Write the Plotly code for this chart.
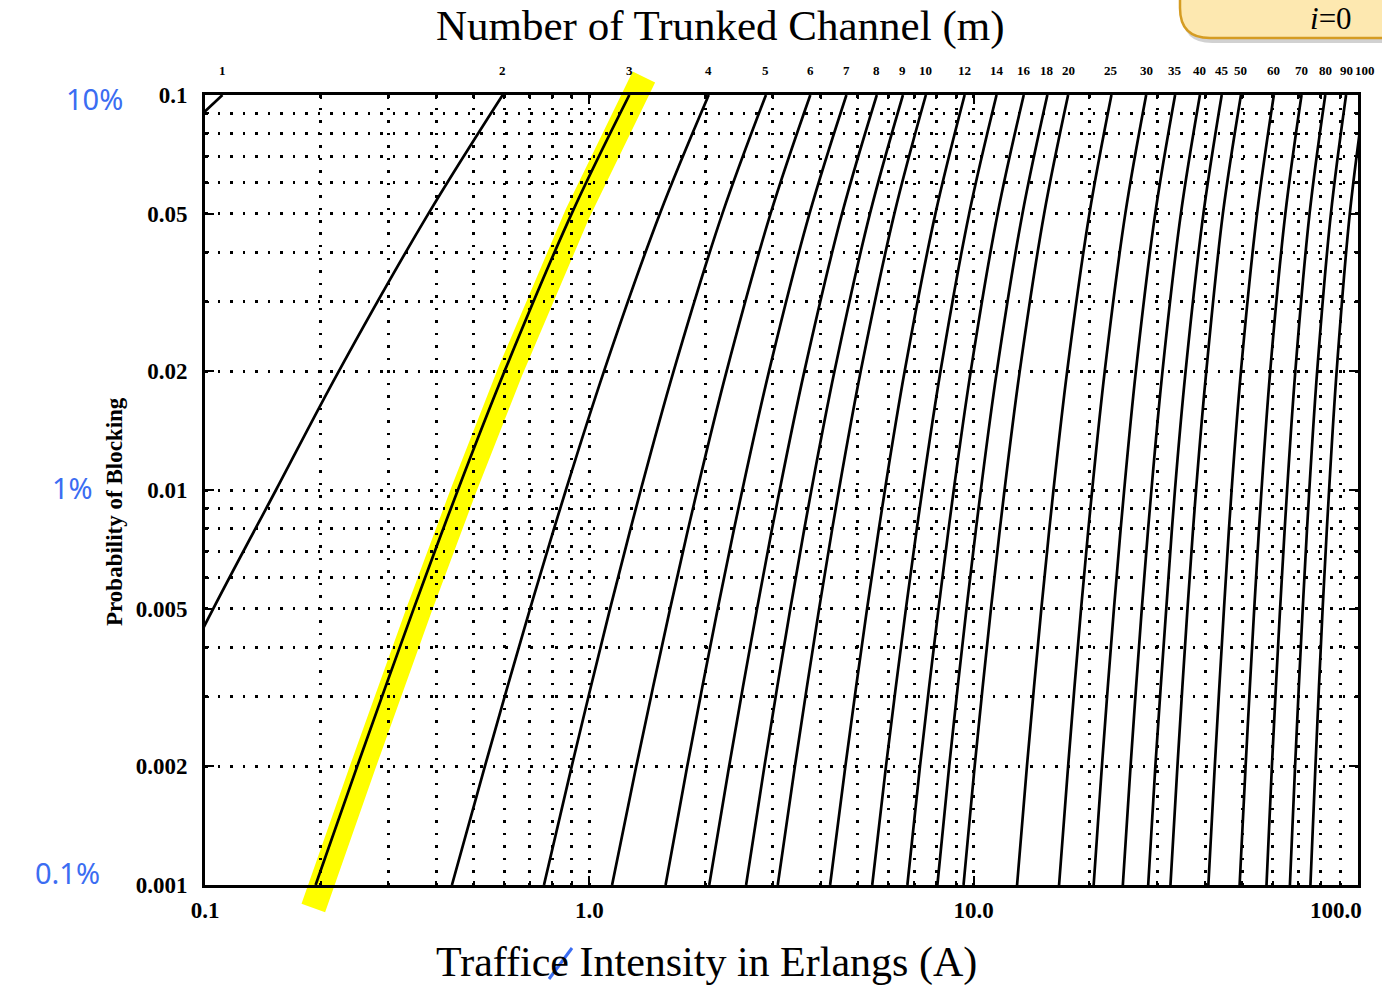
import math
import plotly.graph_objects as go

# ---------------- data ----------------
blocking = [0.001, 0.002, 0.005, 0.01, 0.02, 0.05, 0.1]
channels = [1, 2, 3, 4, 5, 6, 7, 8, 9, 10, 12, 14, 16, 18, 20, 25, 30, 35, 40, 45, 50, 60, 70, 80, 90, 100]
# traffic (Erlangs) at each blocking level for each number of channels
m1 = [0.0010, 0.0020, 0.0050, 0.0101, 0.0204, 0.0526, 0.111]
m2 = [0.0458, 0.0653, 0.105, 0.153, 0.223, 0.381, 0.595]
m3 = [0.194, 0.249, 0.349, 0.455, 0.602, 0.899, 1.271]
m4 = [0.439, 0.535, 0.701, 0.869, 1.092, 1.525, 2.045]
m5 = [0.762, 0.900, 1.132, 1.361, 1.657, 2.218, 2.881]
m6 = [1.146, 1.325, 1.622, 1.909, 2.276, 2.960, 3.758]
m7 = [1.579, 1.798, 2.157, 2.501, 2.935, 3.738, 4.666]
m8 = [2.051, 2.311, 2.730, 3.128, 3.627, 4.543, 5.597]
m9 = [2.558, 2.855, 3.333, 3.783, 4.345, 5.370, 6.546]
m10 = [3.092, 3.427, 3.961, 4.461, 5.084, 6.216, 7.511]
m12 = [4.231, 4.637, 5.279, 5.876, 6.615, 7.950, 9.474]
m14 = [5.446, 5.914, 6.663, 7.352, 8.200, 9.730, 11.47]
m16 = [6.722, 7.250, 8.100, 8.875, 9.828, 11.54, 13.50]
m18 = [8.046, 8.636, 9.578, 10.44, 11.49, 13.39, 15.55]
m20 = [9.411, 10.06, 11.09, 12.03, 13.18, 15.25, 17.61]
m25 = [12.97, 13.76, 15.00, 16.13, 17.51, 20.00, 22.83]
m30 = [16.68, 17.61, 19.03, 20.34, 21.93, 24.80, 28.11]
m35 = [20.52, 21.56, 23.17, 24.64, 26.43, 29.67, 33.43]
m40 = [24.44, 25.60, 27.38, 29.01, 31.00, 34.60, 38.79]
m45 = [28.45, 29.70, 31.70, 33.40, 35.60, 39.60, 44.20]
m50 = [32.51, 33.90, 36.00, 37.90, 40.30, 44.50, 49.60]
m60 = [40.80, 42.40, 44.80, 46.90, 49.60, 54.60, 60.40]
m70 = [49.20, 51.00, 53.70, 56.10, 59.10, 64.70, 71.30]
m80 = [57.80, 59.70, 62.70, 65.40, 68.70, 74.80, 82.20]
m90 = [66.50, 68.60, 71.80, 74.70, 78.30, 85.00, 93.10]
m100 = [75.20, 77.50, 80.90, 84.10, 88.00, 95.20, 104.1]
traffic = [m1, m2, m3, m4, m5, m6, m7, m8, m9, m10, m12, m14, m16, m18, m20,
           m25, m30, m35, m40, m45, m50, m60, m70, m80, m90, m100]
highlight_m = 3

y_tickvals = [0.1, 0.05, 0.02, 0.01, 0.005, 0.002, 0.001]
y_ticktext = ["0.1", "0.05", "0.02", "0.01", "0.005", "0.002", "0.001"]
x_tickvals = [0.1, 1, 10, 100]
x_ticktext = ["0.1", "1.0", "10.0", ""]
x_last_label = "100.0"
minor_x = [k * 10 ** d for d in (-1, 0, 1) for k in range(1, 10)] + [100]
minor_y = [k * 10 ** d for d in (-3, -2) for k in range(1, 10)] + [0.1]

# ---------------- layout geometry ----------------
W, H = 1382, 988
L, R, T, B = 205, 1358, 95, 885


def px(x):
    return (x - L) / (R - L)


def py(y):
    return (B - y) / (B - T)


SERIF = "Liberation Serif"
BLUE = "#3b6df2"

fig = go.Figure()

# yellow highlighter along the m=3 curve (paper coords, extends past the frame)
hl = traffic[channels.index(highlight_m)]
xs = [(math.log10(a) + 1) / 3 + 0.005 for a in hl]
ys = [(math.log10(p) + 3) / 2 for p in blocking]
yb, yt = py(908), py(77)
x_lo = xs[0] + (yb - ys[0]) * (xs[1] - xs[0]) / (ys[1] - ys[0])
x_hi = xs[-1] + (yt - ys[-1]) * (xs[-1] - xs[-2]) / (ys[-1] - ys[-2])
pts = [(x_lo, yb)] + list(zip(xs, ys)) + [(x_hi, yt)]
path = "M " + " L ".join(f"{a:.5f},{b:.5f}" for a, b in pts)
fig.add_shape(type="path", path=path, xref="paper", yref="paper",
              line=dict(color="#ffff00", width=25), layer="below")

for m, a in zip(channels, traffic):
    fig.add_trace(go.Scatter(x=a, y=blocking, mode="lines",
                             line=dict(color="black", width=2.7, shape="spline"),
                             name=str(m), showlegend=False, hoverinfo="skip"))
    fig.add_annotation(x=(math.log10(a[-1]) + 1) / 3, y=py(70), xref="paper", yref="paper",
                       xanchor="center", yanchor="middle",
                       text=f"<b>{m}</b>", showarrow=False,
                       font=dict(family=SERIF, size=13, color="black"))

axis_common = dict(type="log", showline=True, linecolor="black", linewidth=3,
                   mirror="ticks", ticks="inside", ticklen=9, tickwidth=2,
                   tickcolor="black", showgrid=False, zeroline=False,
                   tickfont=dict(family=SERIF, size=23, color="black", weight="bold"))

fig.update_xaxes(**axis_common, range=[-1, 2], tickvals=x_tickvals, ticktext=x_ticktext,
                 ticklabelstandoff=2,
                 minor=dict(tickvals=minor_x, showgrid=True, gridcolor="black",
                            gridwidth=2.7, griddash="2.5px,10px", ticks="inside",
                            ticklen=4, tickcolor="black"))
fig.update_yaxes(**axis_common, range=[-3, -1], tickvals=y_tickvals, ticktext=y_ticktext,
                 ticklabelstandoff=10,
                 minor=dict(tickvals=minor_y, showgrid=True, gridcolor="black",
                            gridwidth=2.7, griddash="2.5px,10px", ticks="inside",
                            ticklen=4, tickcolor="black"))


def note(text, cx, cy, **font):
    fig.add_annotation(x=px(cx), y=py(cy), xref="paper", yref="paper",
                       xanchor="center", yanchor="middle", text=text,
                       showarrow=False, font=font)


# last x tick label, pulled inside the page as in the original
note(f"<b>{x_last_label}</b>", 1336, 910, family=SERIF, size=23, color="black")

# titles
note("Number of Trunked Channel (m)", 720, 26, family=SERIF, size=43, color="black")
note("Traffice Intensity in Erlangs (A)", 706, 962, family=SERIF, size=42, color="black")
fig.add_annotation(x=px(115), y=py(512), xref="paper", yref="paper",
                   xanchor="center", yanchor="middle",
                   text="<b>Probability of Blocking</b>", showarrow=False, textangle=-90,
                   font=dict(family=SERIF, size=23, color="black"))

# handwritten blue notes
for txt, cx, cy in [("10%", 94, 98), ("1%", 72, 487), ("0.1%", 67, 872)]:
    note(txt, cx, cy, family="Noto Sans", size=29, color=BLUE)
fig.add_shape(type="line", xref="paper", yref="paper",
              x0=px(549), y0=py(979), x1=px(572), y1=py(948),
              line=dict(color=BLUE, width=3))


# top-right tab box with shadow
def tab(dx, dy):
    x0, x1, y0, y1, r = 1180 + dx, 1420 + dx, -30 + dy, 38 + dy, 30
    return (f"M {px(x0)},{py(y0)} L {px(x0)},{py(y1 - r)} "
            f"Q {px(x0)},{py(y1)} {px(x0 + r)},{py(y1)} "
            f"L {px(x1)},{py(y1)} L {px(x1)},{py(y0)} Z")


fig.add_shape(type="path", path=tab(2, 5), xref="paper", yref="paper",
              fillcolor="rgba(0,0,0,0.18)", line=dict(width=0), layer="above")
fig.add_shape(type="path", path=tab(0, 0), xref="paper", yref="paper",
              fillcolor="#fde8b0", line=dict(color="#d59c22", width=2.5), layer="above")
note("<i>i</i>=0", 1331, 19, family=SERIF, size=31, color="black")

fig.update_layout(width=W, height=H,
                  margin=dict(l=L, r=W - R, t=T, b=H - B, pad=0),
                  paper_bgcolor="white", plot_bgcolor="rgba(0,0,0,0)",
                  showlegend=False)

fig.write_html("out.html", config={"displayModeBar": False},
               post_script="document.documentElement.style.margin='0';"
                           "document.body.style.margin='0';"
                           "document.body.style.overflow='hidden';")
